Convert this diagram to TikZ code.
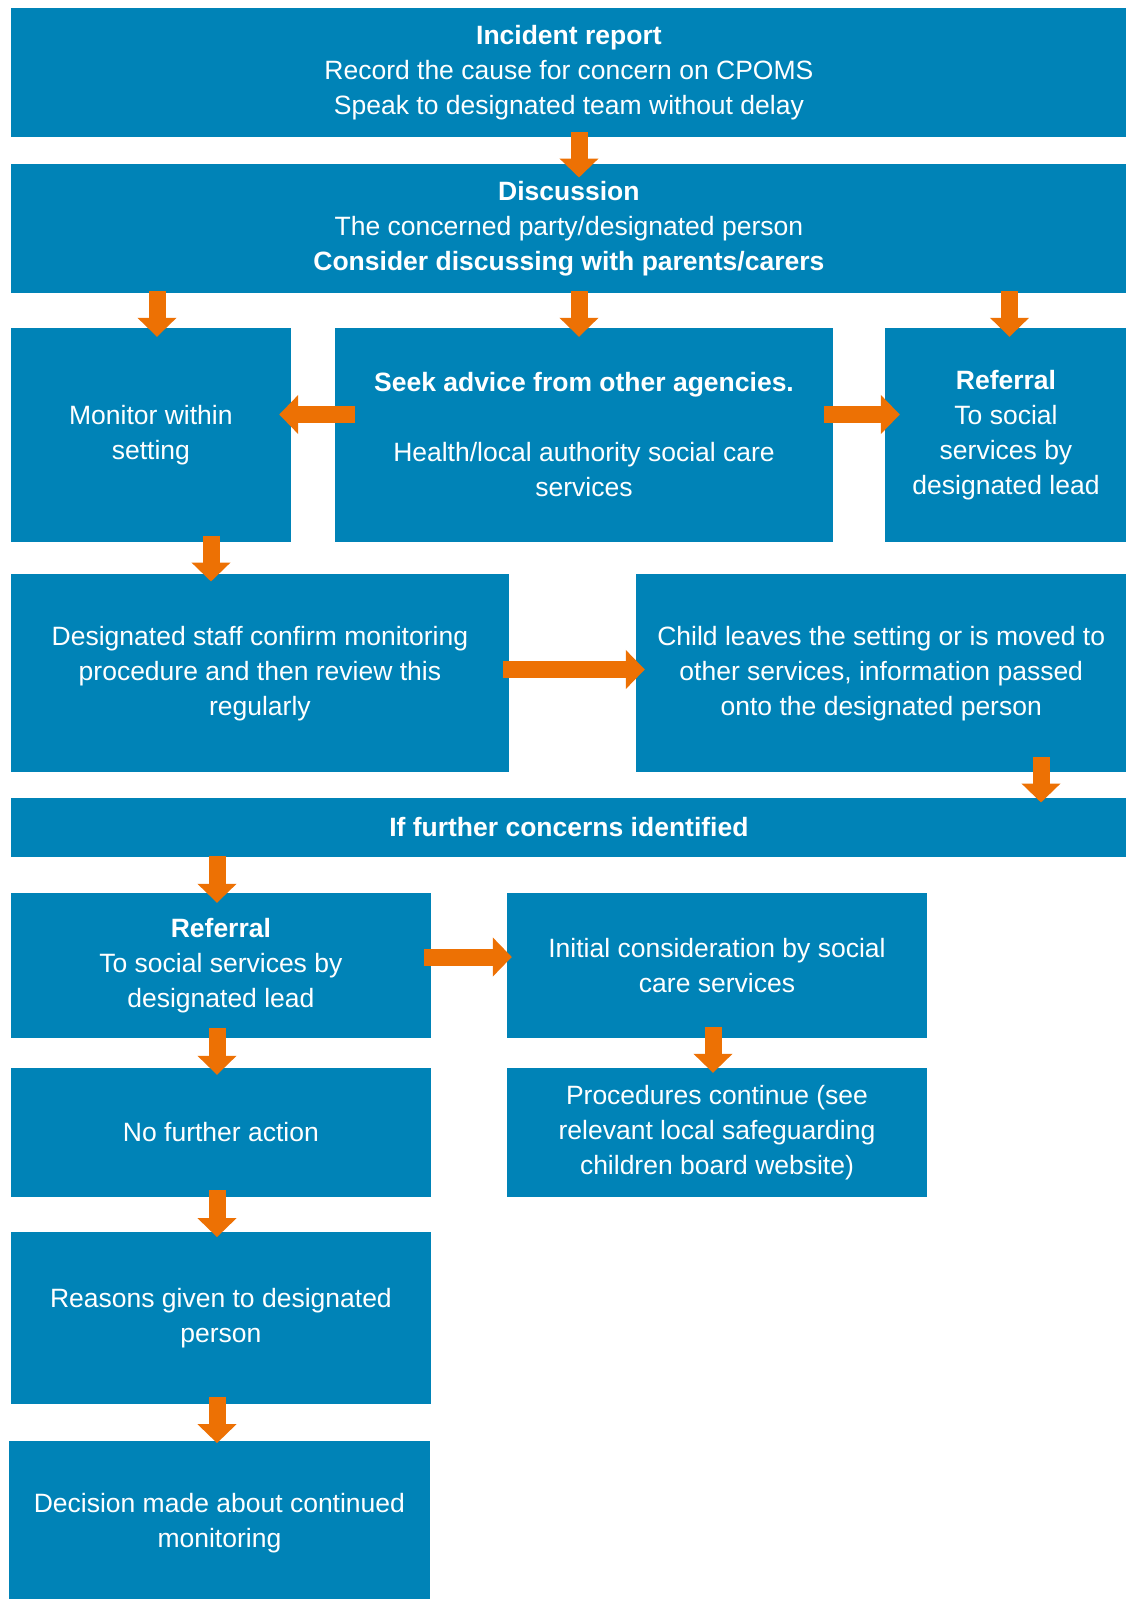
\documentclass[tikz,border=0pt]{standalone}
\usepackage{fontspec}
\setmainfont{Liberation Sans}
\usetikzlibrary{arrows.meta,calc}
\definecolor{boxblue}{RGB}{0,131,183}
\definecolor{arrorange}{RGB}{237,113,4}
\begin{document}
\begin{tikzpicture}[x=1pt,y=-1pt,
  box/.style={fill=boxblue, text=white, inner sep=0pt, align=center,
    font=\fontsize{26.5}{35}\selectfont},
  barrow/.style={draw=arrorange, line width=17pt,
    -{Triangle[width=38pt,length=19pt]}}
]
\useasboundingbox (0,0) rectangle (1126,1599);
% boxes
\node[box, minimum width=1116.2pt, minimum height=128.7pt] (b1) at (568.9,72.35)
  {\textbf{Incident report}\\Record the cause for concern on CPOMS\\Speak to designated team without delay};
\node[box, minimum width=1116.2pt, minimum height=128.7pt] (b2) at (568.9,228.35)
  {\textbf{Discussion}\\The concerned party/designated person\\\textbf{Consider discussing with parents/carers}};
\node[box, minimum width=280.2pt, minimum height=214pt] (b3) at (150.9,435)
  {Monitor within\\setting};
\node[box, minimum width=498pt, minimum height=214pt] (b4) at (584,435)
  {\textbf{Seek advice from other agencies.}\\[35pt]Health/local authority social care\\services};
\node[box, minimum width=242pt, minimum height=214pt] (b5) at (1006,435)
  {\textbf{Referral}\\To social\\services by\\designated lead};
\node[box, minimum width=498.2pt, minimum height=198pt] (b6) at (259.9,673.3)
  {Designated staff confirm monitoring\\procedure and then review this\\regularly};
\node[box, minimum width=491.5pt, minimum height=198pt] (b7) at (881.25,673.3)
  {Child leaves the setting or is moved to\\other services, information passed\\onto the designated person};
\node[box, minimum width=1116.2pt, minimum height=58.4pt] (b8) at (568.9,827.5)
  {\textbf{If further concerns identified}};
\node[box, minimum width=420.2pt, minimum height=145.6pt] (b9) at (220.9,965.5)
  {\textbf{Referral}\\To social services by\\designated lead};
\node[box, minimum width=420pt, minimum height=145.6pt] (b10) at (717,965.5)
  {Initial consideration by social\\care services};
\node[box, minimum width=420.2pt, minimum height=128.4pt] (b11) at (220.9,1132.5)
  {No further action};
\node[box, minimum width=420pt, minimum height=128.4pt] (b12) at (717,1132.5)
  {Procedures continue (see\\relevant local safeguarding\\children board website)};
\node[box, minimum width=420.2pt, minimum height=172pt] (b13) at (220.9,1318.3)
  {Reasons given to designated\\person};
\node[box, minimum width=420.2pt, minimum height=164pt] (b14) at (219.4,1523)
  {Decision made about continued\\monitoring};
% column / row guides
\coordinate (x157) at (157,0);
\coordinate (x211) at (211,0);
\coordinate (x217) at (217,0);
\coordinate (x579) at (579,0);
\coordinate (x713) at (713,0);
\coordinate (x1009) at (1009.5,0);
\coordinate (x1041) at (1041,0);
\coordinate (y414) at (0,414.5);
\coordinate (y669) at (0,669.5);
\coordinate (y957) at (0,957);
% arrows
\draw[barrow] ($(b1.south -| x579)+(0,-5)$) -- ($(b2.north -| x579)+(0,13.7)$);
\draw[barrow] ($(b2.south -| x157)+(0,-1.7)$) -- ($(b3.north -| x157)+(0,9)$);
\draw[barrow] ($(b2.south -| x579)+(0,-1.7)$) -- ($(b4.north -| x579)+(0,9)$);
\draw[barrow] ($(b2.south -| x1009)+(0,-1.7)$) -- ($(b5.north -| x1009)+(0,9)$);
\draw[barrow] ($(b4.west |- y414)+(20,0)$) -- ($(b3.east |- y414)+(-12,0)$);
\draw[barrow] ($(b4.east |- y414)+(-9,0)$) -- ($(b5.west |- y414)+(15,0)$);
\draw[barrow] ($(b3.south -| x211)+(0,-6.3)$) -- ($(b6.north -| x211)+(0,7.4)$);
\draw[barrow] ($(b6.east |- y669)+(-6,0)$) -- ($(b7.west |- y669)+(9.5,0)$);
\draw[barrow] ($(b7.south -| x1041)+(0,-15.6)$) -- ($(b8.north -| x1041)+(0,4.4)$);
\draw[barrow] ($(b8.south -| x217)+(0,-0.7)$) -- ($(b9.north -| x217)+(0,10.3)$);
\draw[barrow] ($(b9.east |- y957)+(-7.3,0)$) -- ($(b10.west |- y957)+(5,0)$);
\draw[barrow] ($(b9.south -| x217)+(0,-10.3)$) -- ($(b11.north -| x217)+(0,6.7)$);
\draw[barrow] ($(b10.south -| x713)+(0,-11.6)$) -- ($(b12.north -| x713)+(0,4.7)$);
\draw[barrow] ($(b11.south -| x217)+(0,-6.7)$) -- ($(b13.north -| x217)+(0,5)$);
\draw[barrow] ($(b13.south -| x217)+(0,-7.6)$) -- ($(b14.north -| x217)+(0,2.3)$);
\end{tikzpicture}
\end{document}
